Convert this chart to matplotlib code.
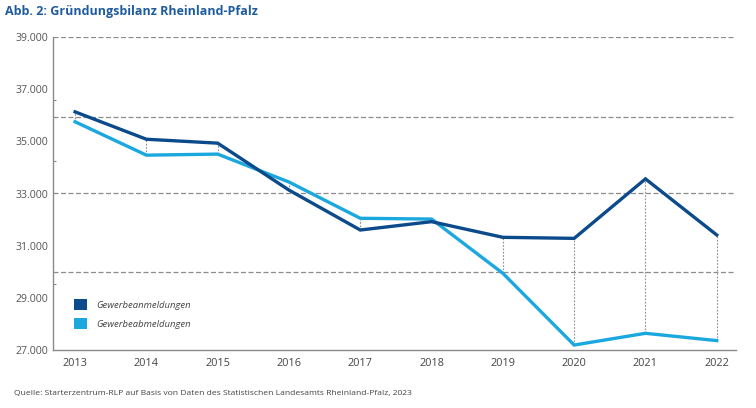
import matplotlib
matplotlib.use('Agg')
import matplotlib.pyplot as plt
from matplotlib.patches import Patch

# Data
years = [2013, 2014, 2015, 2016, 2017, 2018, 2019, 2020, 2021, 2022]
anmeldungen = [36130, 35080, 34930, 33130, 31600, 31920, 31320, 31280, 33560, 31410]
abmeldungen = [35750, 34470, 34510, 33440, 32050, 32020, 29940, 27190, 27640, 27360]

y_ticks = [27000, 29000, 31000, 33000, 35000, 37000, 39000]
y_grid = [30000, 33000, 35930, 39000]
y_minor = [29530, 34250, 36580]

DARK = '#0b4a8b'
LIGHT = '#1aa8df'
TITLE_COL = '#1f5c9e'
GREY = '#8a8a8a'

plt.rcParams['font.family'] = ['Open Sans', 'DejaVu Sans']

fig = plt.figure(figsize=(7.56, 4.08), dpi=100)
ax = fig.add_axes([53 / 756, 58 / 408, 683 / 756, 313 / 408])

# dashed horizontal guides
for g in y_grid:
    ax.axhline(g, color='#8c8c8c', lw=0.9, ls=(0, (4, 2)), zorder=1)

# dotted connectors between both series
lo = [min(a, b) for a, b in zip(anmeldungen, abmeldungen)]
hi = [max(a, b) for a, b in zip(anmeldungen, abmeldungen)]
ax.vlines(years, lo, hi, colors='#8c8c8c', lw=0.8, ls=(0, (1.5, 1.5)), zorder=2)

ax.plot(years, abmeldungen, color=LIGHT, lw=2.4, zorder=3, solid_joinstyle='miter')
ax.plot(years, anmeldungen, color=DARK, lw=2.4, zorder=4, solid_joinstyle='miter')

ax.set_xlim(2012.69, 2022.27)
ax.set_ylim(27000, 39000)
ax.set_xticks(years)
ax.set_xticklabels([str(y) for y in years])
ax.set_yticks(y_ticks)
ax.set_yticklabels([f'{v:,}'.replace(',', '.') for v in y_ticks])
ax.set_yticks(y_minor, minor=True)
ax.tick_params(axis='y', which='major', length=0, pad=3.5, labelsize=7.6, labelcolor='#555555')
ax.tick_params(axis='y', which='minor', length=2, direction='in', color=GREY, width=0.8)
ax.tick_params(axis='x', length=0, pad=6, labelsize=7.8, labelcolor='#444444')

for s in ['top', 'right']:
    ax.spines[s].set_visible(False)
for s in ['left', 'bottom']:
    ax.spines[s].set_color(GREY)
    ax.spines[s].set_linewidth(1.0)

handles = [Patch(facecolor=DARK, edgecolor='none', label='Gewerbeanmeldungen'),
           Patch(facecolor=LIGHT, edgecolor='none', label='Gewerbeabmeldungen')]
leg = ax.legend(handles=handles, loc='lower left', bbox_to_anchor=(0.018, 0.04),
                frameon=False, handlelength=1.4, handleheight=1.4, handletextpad=1.0,
                labelspacing=0.85, prop={'size': 6.8, 'style': 'italic'})
for t in leg.get_texts():
    t.set_color('#444444')

fig.text(5 / 756, 1 - 12 / 408, 'Abb. 2: Gründungsbilanz Rheinland-Pfalz', fontsize=9,
         fontweight='bold', color=TITLE_COL, va='center', ha='left')
fig.text(14 / 756, 1 - 393 / 408,
         'Quelle: Starterzentrum-RLP auf Basis von Daten des Statistischen Landesamts Rheinland-Pfalz, 2023',
         fontsize=6.1, color='#444444', va='center', ha='left')

fig.savefig('out.png', dpi=100)
